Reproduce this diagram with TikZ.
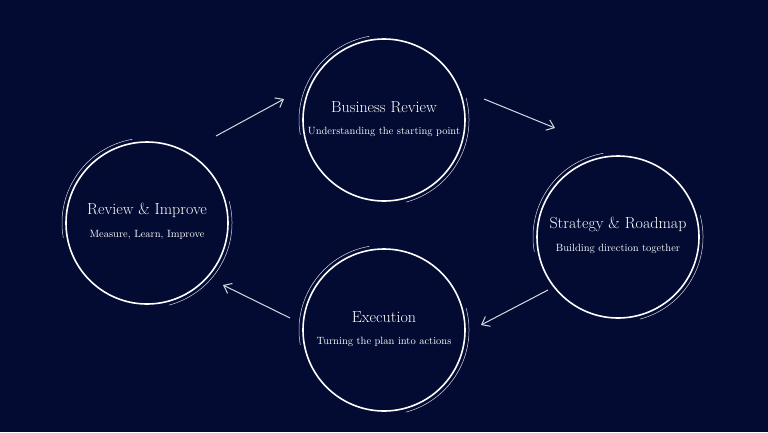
\documentclass[tikz,border=0pt]{standalone}
\usetikzlibrary{arrows.meta}
\definecolor{navy}{HTML}{030B33}
\tikzset{
    stage/.style={circle, draw=white, line width=1.6pt, minimum size=162pt, inner sep=0pt},
    sketch/.style={draw=white!85!navy, line width=0.5pt},
    flow/.style={draw=white!85!navy, line width=1pt, -{Straight Barb[length=7pt, width=11pt]}},
    title/.style={text=white, font=\fontsize{16}{18}\selectfont},
    sub/.style={text=white, font=\fontsize{10.5}{12}\selectfont}
}
\begin{document}
\begin{tikzpicture}[x=1pt, y=-1pt]
	\fill[navy] (0,0) rectangle (768,432);
	\useasboundingbox (0,0) rectangle (768,432);

	\node (br) [stage] at (384,120) {};
	\node (sr) [stage] at (618,237) {};
	\node (ex) [stage] at (384,330) {};
	\node (ri) [stage] at (147,223) {};

	% second sketchy strokes
	\foreach \c in {br, sr, ex, ri} {
		\draw[sketch] (\c.center) ++(-100:85) arc[start angle=-100, end angle=-190, radius=85];
		\draw[sketch] (\c.center) ++(75:85) arc[start angle=75, end angle=-15, radius=85];
	}

	\node [title] at ([yshift=13]br.center) {Business Review};
	\node [sub] at ([yshift=-12]br.center) {Understanding the starting point};
	\node [title] at ([yshift=13]sr.center) {Strategy \& Roadmap};
	\node [sub] at ([yshift=-12]sr.center) {Building direction together};
	\node [title] at ([yshift=13]ex.center) {Execution};
	\node [sub] at ([yshift=-12]ex.center) {Turning the plan into actions};
	\node [title] at ([yshift=13]ri.center) {Review \& Improve};
	\node [sub] at ([yshift=-12]ri.center) {Measure, Learn, Improve};

	\coordinate (a1) at (216,136); \coordinate (a2) at (284,99);
	\coordinate (b1) at (484,99);  \coordinate (b2) at (555,128);
	\coordinate (c1) at (548,290); \coordinate (c2) at (481,325);
	\coordinate (d1) at (290,318); \coordinate (d2) at (223,285);
	\draw[flow] (a1) -- (a2);
	\draw[flow] (b1) -- (b2);
	\draw[flow] (c1) -- (c2);
	\draw[flow] (d1) -- (d2);
\end{tikzpicture}
\end{document}
